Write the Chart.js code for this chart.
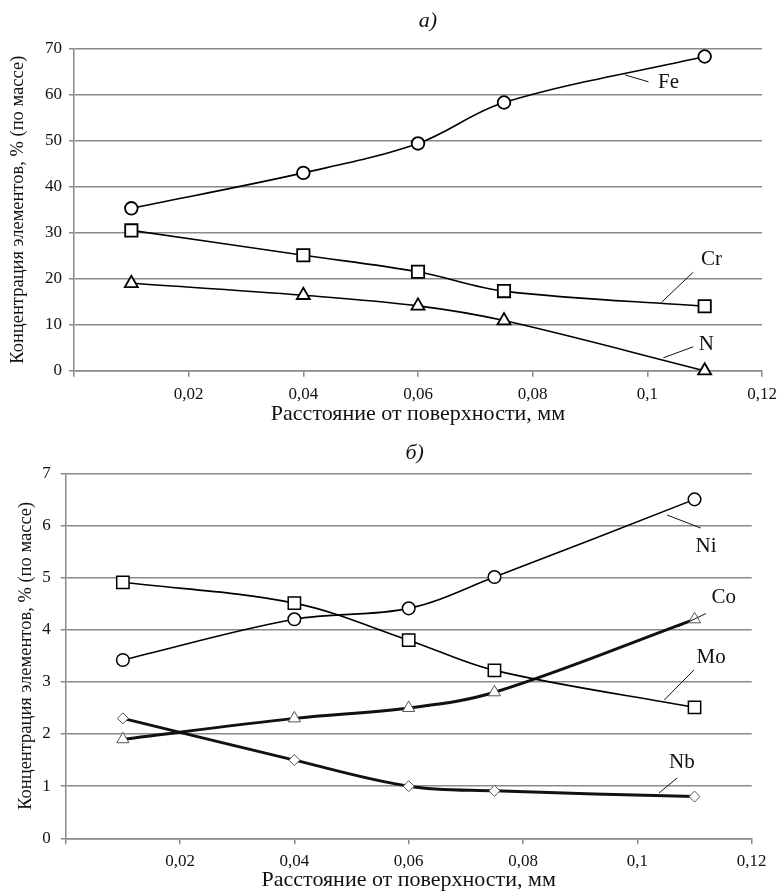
<!DOCTYPE html>
<html>
<head>
<meta charset="utf-8">
<script src="https://cdn.jsdelivr.net/npm/chart.js@4.4.1/dist/chart.umd.min.js"></script>
<style>
  body { margin: 0; background: #fff; overflow: hidden; }
  canvas { position: absolute; left: 0; }
  #chartA { top: 0; }
  #chartB { top: 430px; }
</style>
</head>
<body>
<canvas id="chartA" width="777" height="430"></canvas>
<canvas id="chartB" width="777" height="461"></canvas>
<script>
// расстояние от поверхности, мм
const distance = [0.01, 0.04, 0.06, 0.075, 0.11];

// а) основные элементы, % (по массе)
const feValues = [35.3, 43.0, 49.4, 58.3, 68.3];
const crValues = [30.5, 25.1, 21.5, 17.3, 14.0];
const nValues = [19.0, 16.4, 14.1, 10.9, 0.0];

// б) легирующие элементы, % (по массе)
const niValues = [3.42, 4.2, 4.41, 5.01, 6.5];
const moValues = [4.91, 4.51, 3.8, 3.22, 2.51];
const coValues = [1.9, 2.3, 2.5, 2.8, 4.2];
const nbValues = [2.3, 1.5, 1.0, 0.91, 0.8];

const xTicks = [0, 0.02, 0.04, 0.06, 0.08, 0.1, 0.12];
const xTickLabels = ['', '0,02', '0,04', '0,06', '0,08', '0,1', '0,12'];
const yTicksA = [0, 10, 20, 30, 40, 50, 60, 70];
const yTicksB = [0, 1, 2, 3, 4, 5, 6, 7];

const xTitle = 'Расстояние от поверхности, мм';
const yTitle = 'Концентрация элементов, % (по массе)';

const SERIF = '"Liberation Serif", "Times New Roman", serif';
const GRID = '#8a8a8a';

function points(values) {
  return distance.map((d, i) => ({ x: d, y: values[i] }));
}

// подписи кривых с выносками, в единицах осей
const calloutPlugin = {
  id: 'callouts',
  afterDatasetsDraw(chart, args, opts) {
    const { ctx, chartArea } = chart;
    const x = chart.scales.x, y = chart.scales.y;
    ctx.save();
    ctx.fillStyle = '#111';
    ctx.textAlign = 'center';
    ctx.textBaseline = 'middle';
    ctx.font = 'italic 22px ' + SERIF;
    ctx.fillText(opts.panel, (chartArea.left + chartArea.right) / 2 + opts.panelDx, opts.panelY);

    ctx.font = '21px ' + SERIF;
    ctx.strokeStyle = '#111';
    ctx.lineWidth = 1;
    opts.items.forEach(function(item) {
      ctx.beginPath();
      ctx.moveTo(x.getPixelForValue(item.from[0]), y.getPixelForValue(item.from[1]));
      ctx.lineTo(x.getPixelForValue(item.to[0]), y.getPixelForValue(item.to[1]));
      ctx.stroke();
      ctx.fillText(item.text, x.getPixelForValue(item.at[0]), y.getPixelForValue(item.at[1]));
    });
    ctx.restore();
  }
};

function makeOptions(p) {
  return {
    responsive: false,
    animation: false,
    events: [],
    layout: { padding: { top: p.top, right: p.right, left: 0, bottom: 0 } },
    plugins: {
      legend: { display: false },
      tooltip: { enabled: false },
      callouts: { panel: p.panel, panelDx: p.panelDx, panelY: p.panelY, items: p.items }
    },
    scales: {
      x: {
        type: 'linear',
        min: 0,
        max: 0.12,
        afterBuildTicks: s => { s.ticks = xTicks.map(v => ({ value: v })); },
        afterFit: s => { s.height = p.xHeight; s.paddingLeft = 0; s.paddingRight = 0; },
        grid: { drawOnChartArea: false, drawTicks: true, tickLength: 6, color: GRID, lineWidth: 1.5 },
        border: { display: true, color: GRID, width: 1.5 },
        ticks: {
          padding: p.xTickPad,
          color: '#111',
          font: { family: SERIF, size: 17 },
          callback: (v, i) => xTickLabels[i]
        },
        title: {
          display: true,
          text: xTitle,
          color: '#111',
          font: { family: SERIF, size: 22, lineHeight: 1 },
          padding: { top: 0, bottom: p.xTitlePad }
        }
      },
      y: {
        type: 'linear',
        min: 0,
        max: p.yMax,
        afterBuildTicks: s => { s.ticks = p.yTicks.map(v => ({ value: v })); },
        afterFit: s => { s.width = p.yWidth; },
        grid: { drawOnChartArea: true, drawTicks: true, tickLength: 5, color: GRID, lineWidth: 1.5 },
        border: { display: true, color: GRID, width: 1.5 },
        ticks: {
          padding: p.yTickPad,
          color: '#111',
          font: { family: SERIF, size: 17 }
        },
        title: {
          display: true,
          text: yTitle,
          color: '#111',
          font: { family: SERIF, size: 18.5, lineHeight: 1.2 },
          padding: { top: p.yTitlePad, bottom: 0 }
        }
      }
    }
  };
}

function series(values, style) {
  return Object.assign({
    data: points(values),
    borderColor: '#000',
    borderWidth: 1.6,
    tension: 0.35,
    clip: false,
    pointBackgroundColor: '#fff',
    pointBorderColor: '#000',
    pointBorderWidth: 1.8
  }, style);
}

new Chart(document.getElementById('chartA'), {
  type: 'line',
  data: {
    datasets: [
      series(feValues, { label: 'Fe', pointStyle: 'circle', pointRadius: 6.3 }),
      series(crValues, { label: 'Cr', pointStyle: 'rect', pointRadius: 8.7 }),
      series(nValues, { label: 'N', pointStyle: 'triangle', pointRadius: 7.5 })
    ]
  },
  options: makeOptions({
    top: 48.7, right: 15, xHeight: 59.3, yWidth: 74, yMax: 70, yTicks: yTicksA,
    xTickPad: 8, xTitlePad: 5, yTickPad: 7, yTitlePad: 7.2,
    panel: 'а)', panelDx: 10, panelY: 21.7,
    items: [
      { text: 'Fe', from: [0.0961, 64.3], to: [0.1002, 62.8], at: [0.1037, 62.6] },
      { text: 'Cr', from: [0.1025, 14.9], to: [0.108, 21.4], at: [0.1112, 24.1] },
      { text: 'N', from: [0.1028, 2.8], to: [0.108, 5.2], at: [0.1103, 5.6] }
    ]
  }),
  plugins: [calloutPlugin]
});

new Chart(document.getElementById('chartB'), {
  type: 'line',
  data: {
    datasets: [
      series(niValues, { label: 'Ni', pointStyle: 'circle', pointRadius: 6.3, pointBorderWidth: 1.5 }),
      series(moValues, { label: 'Mo', pointStyle: 'rect', pointRadius: 8.7, pointBorderWidth: 1.5 }),
      series(coValues, { label: 'Co', pointStyle: 'triangle', pointRadius: 7, borderWidth: 3, borderColor: '#111',
        pointBorderColor: '#555', pointBorderWidth: 1 }),
      series(nbValues, { label: 'Nb', pointStyle: 'rectRot', pointRadius: 5.5, borderWidth: 3, borderColor: '#111',
        pointBorderColor: '#555', pointBorderWidth: 1 })
    ]
  },
  options: makeOptions({
    top: 43.3, right: 25.3, xHeight: 52.7, yWidth: 65.7, yMax: 7, yTicks: yTicksB,
    xTickPad: 7, xTitlePad: 0, yTickPad: 10, yTitlePad: 15.5,
    panel: 'б)', panelDx: 6, panelY: 23,
    items: [
      { text: 'Ni', from: [0.1052, 6.2], to: [0.1111, 5.95], at: [0.112, 5.59] },
      { text: 'Co', from: [0.1072, 4.06], to: [0.112, 4.31], at: [0.1151, 4.61] },
      { text: 'Mo', from: [0.1047, 2.65], to: [0.1099, 3.23], at: [0.1129, 3.46] },
      { text: 'Nb', from: [0.1038, 0.87], to: [0.107, 1.16], at: [0.1078, 1.45] }
    ]
  }),
  plugins: [calloutPlugin]
});
</script>
</body>
</html>
